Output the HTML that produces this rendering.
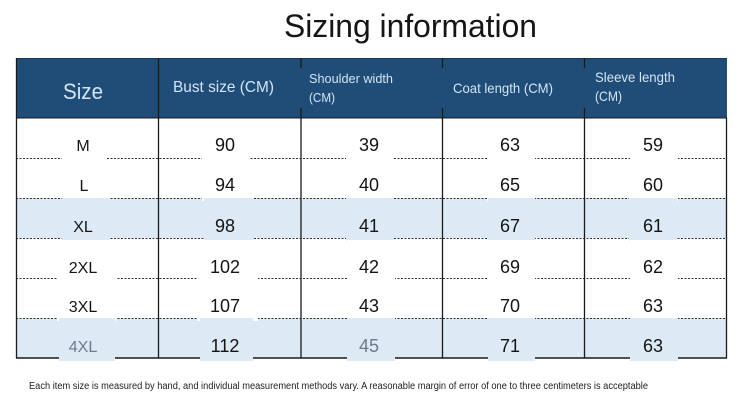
<!DOCTYPE html>
<html>
<head>
<meta charset="utf-8">
<style>
  html,body{margin:0;padding:0;background:#fff;}
  svg{display:block;}
  text{font-family:"Liberation Sans", sans-serif;}
</style>
</head>
<body>
<svg width="743" height="416" viewBox="0 0 743 416" xmlns="http://www.w3.org/2000/svg">
  <rect x="0" y="0" width="743" height="416" fill="#ffffff"/>

  <!-- Title -->
  <text x="284" y="37" font-size="32" fill="#151515" textLength="253" lengthAdjust="spacingAndGlyphs">Sizing information</text>

  <!-- light blue rows -->
  <rect x="16" y="198" width="711" height="40" fill="#dde9f5"/>
  <rect x="16" y="318" width="711" height="40" fill="#dde9f5"/>

  <!-- header -->
  <rect x="16" y="58" width="711" height="60" fill="#1f4d78"/>
  <line x1="16" y1="58.5" x2="727" y2="58.5" stroke="#173a5c" stroke-width="1"/>

  <!-- dotted row separators -->
  <g stroke="#333" stroke-width="1" stroke-dasharray="2,1.5">
    <line x1="16" y1="158.5" x2="727" y2="158.5"/>
    <line x1="16" y1="198.5" x2="727" y2="198.5"/>
    <line x1="16" y1="238.5" x2="727" y2="238.5"/>
    <line x1="16" y1="278.5" x2="727" y2="278.5"/>
    <line x1="16" y1="318.5" x2="727" y2="318.5"/>
  </g>
  <!-- bottom border -->
  <line x1="16" y1="358" x2="727" y2="358" stroke="#1a1a1a" stroke-width="1.4"/>

  <!-- masking boxes behind values -->
  <g>
    <!-- row M 118-158 white -->
    <g fill="#ffffff">
      <rect x="62" y="120" width="44" height="41"/>
      <rect x="202" y="120" width="48" height="41"/>
      <rect x="346" y="120" width="48" height="41"/>
      <rect x="487" y="120" width="48" height="41"/>
      <rect x="630" y="120" width="48" height="41"/>
    </g>
    <!-- row L 158-198 white -->
    <g fill="#ffffff">
      <rect x="62" y="160" width="44" height="41"/>
      <rect x="202" y="160" width="48" height="41"/>
      <rect x="346" y="160" width="48" height="41"/>
      <rect x="487" y="160" width="48" height="41"/>
      <rect x="630" y="160" width="48" height="41"/>
    </g>
    <!-- row XL 198-238 blue -->
    <g fill="#dde9f5">
      <rect x="62" y="198" width="48" height="43"/>
      <rect x="204" y="198" width="50" height="43"/>
      <rect x="346" y="198" width="48" height="43"/>
      <rect x="488" y="198" width="47" height="43"/>
      <rect x="629" y="198" width="48" height="43"/>
    </g>
    <!-- row 2XL 238-278 white -->
    <g fill="#ffffff">
      <rect x="57" y="240" width="59" height="41"/>
      <rect x="197" y="240" width="61" height="41"/>
      <rect x="347" y="240" width="48" height="41"/>
      <rect x="488" y="240" width="47" height="41"/>
      <rect x="630" y="240" width="48" height="41"/>
    </g>
    <!-- row 3XL 278-318 white -->
    <g fill="#ffffff">
      <rect x="57" y="280" width="59" height="41"/>
      <rect x="197" y="280" width="61" height="41"/>
      <rect x="347" y="280" width="48" height="41"/>
      <rect x="488" y="280" width="47" height="41"/>
      <rect x="630" y="280" width="48" height="41"/>
    </g>
    <!-- row 4XL 318-358 blue -->
    <g fill="#dde9f5">
      <rect x="59" y="318" width="56" height="43"/>
      <rect x="200" y="318" width="53" height="43"/>
      <rect x="347" y="318" width="48" height="43"/>
      <rect x="488" y="318" width="47" height="43"/>
      <rect x="630" y="318" width="48" height="43"/>
    </g>
  </g>

  <!-- vertical borders -->
  <g stroke="#1a1a1a" stroke-width="1.3">
    <line x1="16.5" y1="58" x2="16.5" y2="358.5"/>
    <line x1="726.5" y1="118" x2="726.5" y2="358.5"/>
    <line x1="158.5" y1="58" x2="158.5" y2="358"/>
    <line x1="301" y1="118" x2="301" y2="358"/>
    <line x1="442.5" y1="118" x2="442.5" y2="358"/>
    <line x1="584.5" y1="118" x2="584.5" y2="358"/>
    <!-- header short segments -->
    <line x1="301" y1="58" x2="301" y2="68"/>
    <line x1="301" y1="108" x2="301" y2="118"/>
    <line x1="442.5" y1="58" x2="442.5" y2="68"/>
    <line x1="442.5" y1="108" x2="442.5" y2="118"/>
    <line x1="584.5" y1="58" x2="584.5" y2="68"/>
    <line x1="584.5" y1="108" x2="584.5" y2="118"/>
  </g>
  <line x1="16" y1="118" x2="727" y2="118" stroke="#1a1a1a" stroke-width="1"/>

  <!-- header text -->
  <g fill="#d4e5f4">
    <text x="63" y="99" font-size="22" textLength="40" lengthAdjust="spacingAndGlyphs">Size</text>
    <text x="173" y="92" font-size="16" textLength="101" lengthAdjust="spacingAndGlyphs">Bust size (CM)</text>
    <text x="309" y="83" font-size="13" textLength="84" lengthAdjust="spacingAndGlyphs">Shoulder width</text>
    <text x="309" y="102" font-size="13" textLength="26" lengthAdjust="spacingAndGlyphs">(CM)</text>
    <text x="453" y="93" font-size="14" textLength="100" lengthAdjust="spacingAndGlyphs">Coat length (CM)</text>
    <text x="595" y="82" font-size="14" textLength="80" lengthAdjust="spacingAndGlyphs">Sleeve length</text>
    <text x="595" y="101" font-size="14" textLength="27" lengthAdjust="spacingAndGlyphs">(CM)</text>
  </g>

  <!-- body text -->
  <g fill="#141414" text-anchor="middle">
    <g font-size="16">
      <text x="83" y="151">M</text>
      <text x="84" y="191">L</text>
      <text x="83" y="232">XL</text>
      <text x="83" y="273">2XL</text>
      <text x="83" y="312">3XL</text>
      <text x="83" y="352" fill="#6d7b88">4XL</text>
    </g>
    <g font-size="18">
      <text x="225" y="151">90</text>
      <text x="225" y="191">94</text>
      <text x="225" y="232">98</text>
      <text x="225" y="273">102</text>
      <text x="225" y="312">107</text>
      <text x="225" y="352">112</text>

      <text x="369" y="151">39</text>
      <text x="369" y="191">40</text>
      <text x="369" y="232">41</text>
      <text x="369" y="273">42</text>
      <text x="369" y="312">43</text>
      <text x="369" y="352" fill="#6d7b88">45</text>

      <text x="510" y="151">63</text>
      <text x="510" y="191">65</text>
      <text x="510" y="232">67</text>
      <text x="510" y="273">69</text>
      <text x="510" y="312">70</text>
      <text x="510" y="352">71</text>

      <text x="653" y="151">59</text>
      <text x="653" y="191">60</text>
      <text x="653" y="232">61</text>
      <text x="653" y="273">62</text>
      <text x="653" y="312">63</text>
      <text x="653" y="352">63</text>
    </g>
  </g>

  <!-- footer -->
  <text x="29" y="389" font-size="10" fill="#1e1e1e" textLength="619" lengthAdjust="spacingAndGlyphs">Each item size is measured by hand, and individual measurement methods vary. A reasonable margin of error of one to three centimeters is acceptable</text>
</svg>
</body>
</html>
